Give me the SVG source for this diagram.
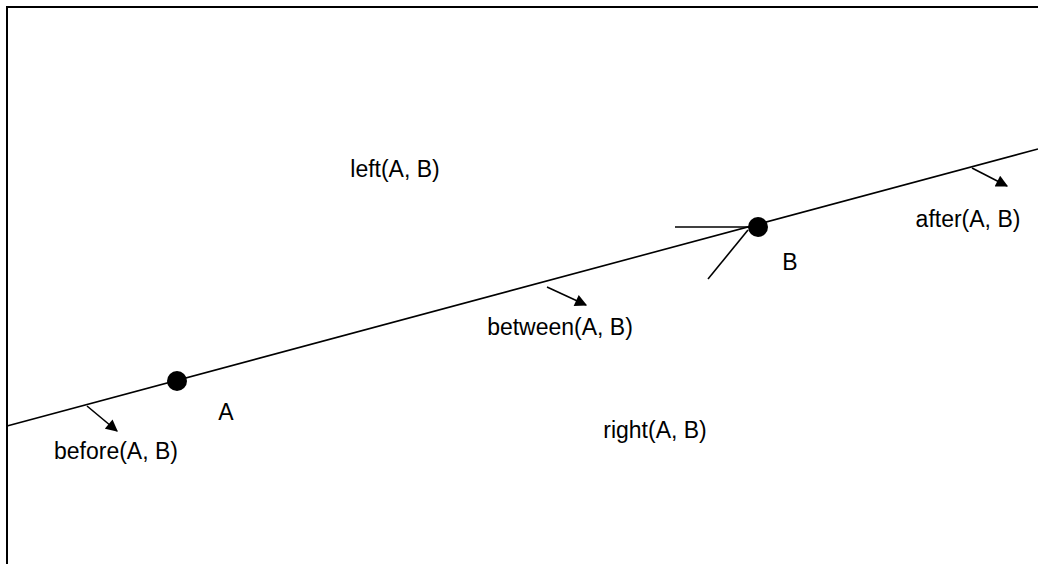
<svg xmlns="http://www.w3.org/2000/svg" width="1038" height="564" viewBox="0 0 1038 564">
  <style>
    .ln { stroke: #000; stroke-width: 1.6; fill: none; }
    .ar { stroke: #000; stroke-width: 1.6; fill: none; marker-end: url(#head); }
    .dot { fill: #000; }
    .lbl { font-family: "Liberation Sans", Arial, Helvetica, sans-serif; font-size: 23px; fill: #000; text-anchor: middle; }
    .frame { stroke: #000; stroke-width: 2; fill: none; }
  </style>
  <defs>
    <marker id="head" viewBox="0 0 10 10" refX="9" refY="5" markerWidth="14" markerHeight="12" markerUnits="userSpaceOnUse" orient="auto">
      <path d="M0,0 L10,5 L0,10 z" fill="#000"/>
    </marker>
  </defs>
  <rect width="1038" height="564" fill="#fff"/>
  <g id="frame">
    <path class="frame" d="M7,564 L7,7 L1038,7"/>
  </g>
  <g id="connectors">
    <line class="ln" x1="7" y1="426" x2="1038" y2="149"/>
    <line class="ln" x1="675" y1="227" x2="750" y2="227"/>
    <line class="ln" x1="708" y1="279" x2="748" y2="230"/>
    <line class="ar" x1="87" y1="406" x2="117" y2="431"/>
    <line class="ar" x1="547" y1="287" x2="586" y2="305"/>
    <line class="ar" x1="972" y1="168" x2="1007" y2="186"/>
  </g>
  <g id="node-A">
    <circle class="dot" cx="177" cy="381" r="10"/>
    <text class="lbl" x="226" y="420">A</text>
  </g>
  <g id="node-B">
    <circle class="dot" cx="758" cy="227" r="10"/>
    <text class="lbl" x="790" y="270">B</text>
  </g>
  <g id="label-left"><text class="lbl" x="395" y="177">left(A, B)</text></g>
  <g id="label-right"><text class="lbl" x="655" y="438">right(A, B)</text></g>
  <g id="label-between"><text class="lbl" x="560" y="335">between(A, B)</text></g>
  <g id="label-before"><text class="lbl" x="116" y="459">before(A, B)</text></g>
  <g id="label-after"><text class="lbl" x="968" y="227">after(A, B)</text></g>
</svg>
